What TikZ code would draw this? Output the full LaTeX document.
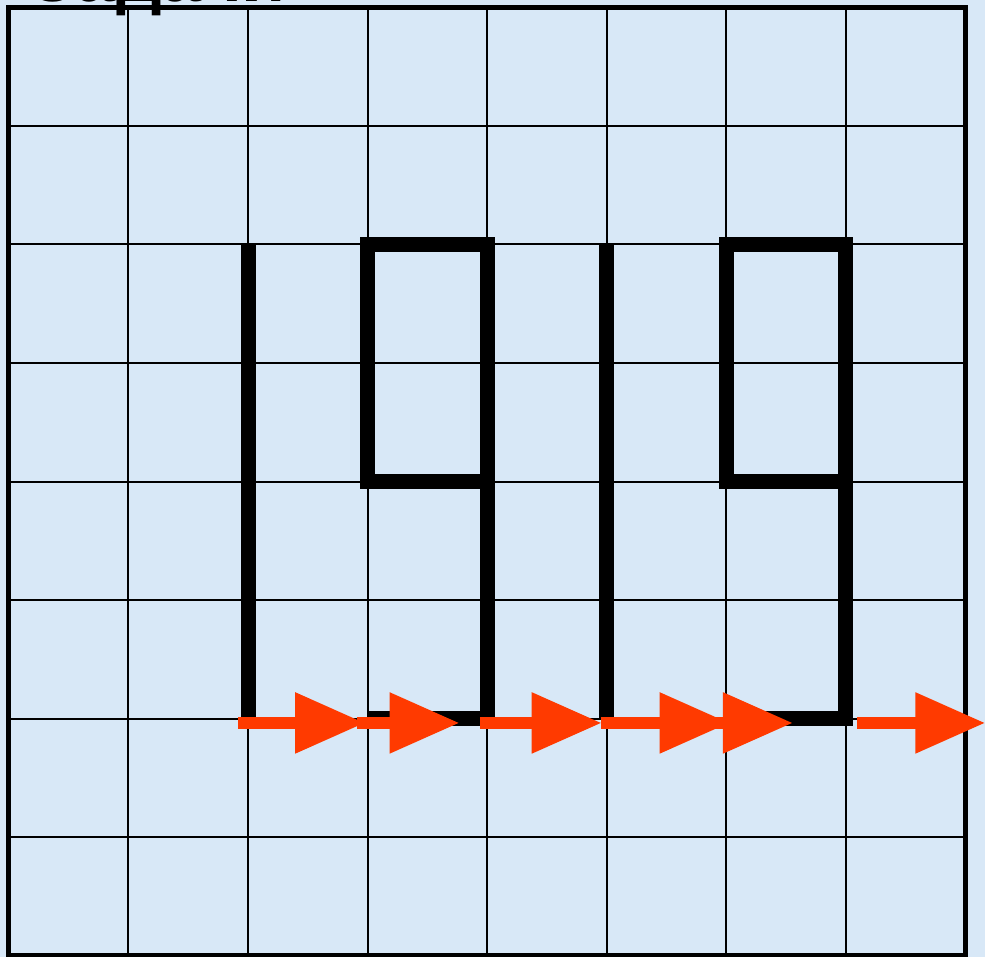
\documentclass[tikz,border=0pt]{standalone}
\usepackage{fontspec}
\newfontfamily\titlefont{Liberation Sans}
\usepackage{tikz}
\usetikzlibrary{arrows.meta}
\definecolor{bgblue}{RGB}{216,232,247}
\definecolor{movered}{RGB}{255,58,0}

\begin{document}
\begin{tikzpicture}[x=59.75pt, y=59.3pt,
    gridline/.style={line width=1pt},
    outline/.style={line width=2.5pt},
    digit/.style={line width=7.5pt, line join=miter},
    move/.style={movered, line width=6pt, -{Triangle[length=35pt,width=29pt]}}]
    \useasboundingbox (-0.0753,-0.0084) rectangle (8.1674,8.0607);
    \fill[bgblue] (-0.0753,-0.0084) rectangle (8.1674,8.0607);

    % title, cut off by the top edge
    \begin{scope}
      \clip (-0.0753,-0.0084) rectangle (8.1674,8.0607);
      \node[anchor=base west, inner sep=0pt, font=\titlefont\bfseries\fontsize{36}{36}\selectfont]
        (title) at (0.18,8.045) {Задачи};
    \end{scope}

    % 8x8 field
    \draw[gridline, step=1] (0,0) grid (8,8);
    \draw[outline] (0,0) rectangle (8,8);

    % 1 9 1 9
    \foreach \x in {2,5}{
      \coordinate (one\x) at (\x,2);
      \draw[digit] (one\x) -- ++(0,4);
    }
    \foreach \x in {3,6}{
      \coordinate (nine\x) at (\x,2);
      \draw[digit] (nine\x) -- ++(1,0) -- ++(0,4) -- ++(-1,0) -- ++(0,-2) -- ++(1,0);
    }

    % moves along the bottom line
    \foreach \i/\s/\e in {1/1.92/2.98, 2/2.91/3.77, 3/3.94/4.96,
                          4/4.95/6.03, 5/5.91/6.56, 6/7.10/8.17}{
      \coordinate (s\i) at (\s,1.965);
      \coordinate (e\i) at (\e,1.965);
      \draw[move] (s\i) -- (e\i);
    }
\end{tikzpicture}
\end{document}
